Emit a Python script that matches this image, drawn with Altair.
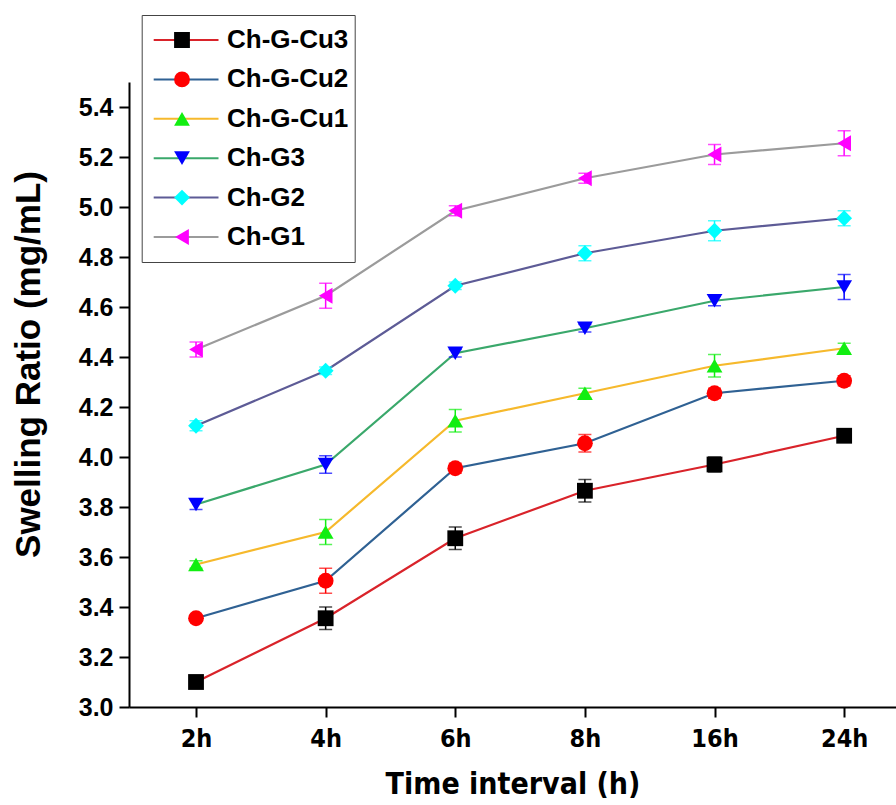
import altair as alt
import pandas as pd

# Sampling times and series
times = ["2h", "4h", "6h", "8h", "16h", "24h"]
series = ["Ch-G-Cu3", "Ch-G-Cu2", "Ch-G-Cu1", "Ch-G3", "Ch-G2", "Ch-G1"]

# Mean swelling ratio (mg/mL) and standard deviation per series
cu3 = [3.10, 3.355, 3.675, 3.865, 3.97, 4.085]
cu3_err = [0.01, 0.045, 0.045, 0.045, 0.03, 0.01]
cu2 = [3.355, 3.505, 3.955, 4.055, 4.255, 4.305]
cu2_err = [0.01, 0.05, 0.02, 0.035, 0.02, 0.02]
cu1 = [3.57, 3.70, 4.145, 4.255, 4.365, 4.435]
cu1_err = [0.015, 0.05, 0.045, 0.02, 0.045, 0.02]
g3 = [3.81, 3.97, 4.415, 4.515, 4.625, 4.68]
g3_err = [0.02, 0.035, 0.015, 0.015, 0.02, 0.05]
g2 = [4.125, 4.345, 4.685, 4.815, 4.905, 4.955]
g2_err = [0.02, 0.015, 0.015, 0.03, 0.04, 0.03]
g1 = [4.43, 4.645, 4.985, 5.115, 5.21, 5.255]
g1_err = [0.03, 0.05, 0.02, 0.02, 0.04, 0.05]

values = [cu3, cu2, cu1, g3, g2, g1]
errors = [cu3_err, cu2_err, cu1_err, g3_err, g2_err, g1_err]

line_colors = ["#d9232a", "#2f6193", "#f6b92c", "#3aa86b", "#5d5b96", "#9b9b9b"]
marker_colors = ["#000000", "#ff0000", "#11ee11", "#0000ff", "#00ffff", "#ff00ff"]
marker_shapes = ["square", "circle", "triangle-up", "triangle-down", "diamond", "triangle-left"]

# the line key carries a zero-width suffix so that the line-style legend
# stays separate from the marker legend
line_keys = [s + "\u200b" for s in series]

rows = []
for name, key, vals, errs in zip(series, line_keys, values, errors):
    for i, (t, v, e) in enumerate(zip(times, vals, errs)):
        rows.append({"line": key, "marker": name, "idx": i, "time": t,
                     "ratio": v, "lo": v - e, "hi": v + e})
df = pd.DataFrame(rows)

FONT = "Liberation Sans"
NARROW = "Liberation Sans Narrow, Arial Narrow, DejaVu Sans Condensed"
LEG_X, LEG_Y = 12.7, -67
LEG_PAD, LEG_CLIP, LEG_ROWPAD = 12, 26, 13.4

label_expr = "[" + ",".join(f"'{t}'" for t in times) + "][datum.value]"

x = alt.X("idx:Q",
          scale=alt.Scale(domain=[-0.517, 5.40], nice=False, zero=False),
          axis=alt.Axis(title="Time interval (h)", values=list(range(len(times))),
                        labelExpr=label_expr, grid=False,
                        labelFont=NARROW, labelFontSize=25, labelFontWeight="bold",
                        labelColor="black", labelPadding=9,
                        titleFont=NARROW, titleFontSize=30, titleFontWeight="bold",
                        titleColor="black", titlePadding=18,
                        tickSize=10, tickWidth=2, tickColor="black",
                        domainWidth=2, domainColor="black"))
y = alt.Y("ratio:Q",
          scale=alt.Scale(domain=[3.0, 5.5], nice=False, zero=False),
          axis=alt.Axis(title="Swelling Ratio (mg/mL)",
                        values=[3.0, 3.2, 3.4, 3.6, 3.8, 4.0, 4.2, 4.4, 4.6, 4.8, 5.0, 5.2, 5.4],
                        format=".1f", grid=False,
                        labelFont=FONT, labelFontSize=25, labelFontWeight="bold",
                        labelColor="black", labelPadding=6,
                        titleFont=FONT, titleFontSize=35, titleFontWeight="bold",
                        titleColor="black", titleX=-83, titleY=282,
                        tickSize=10, tickWidth=2, tickColor="black",
                        domainWidth=2, domainColor="black"))

# line-style legend: draws the frame and the coloured strokes, no text
lines = alt.Chart(df).mark_line(strokeWidth=2.2).encode(
    x=x, y=y,
    stroke=alt.Stroke("line:N",
                      scale=alt.Scale(domain=line_keys, range=line_colors),
                      legend=alt.Legend(orient="none", legendX=LEG_X, legendY=LEG_Y,
                                        title=None, padding=LEG_PAD, strokeColor="#444444",
                                        clipHeight=LEG_CLIP, rowPadding=LEG_ROWPAD,
                                        symbolType="stroke", symbolSize=5329,
                                        symbolStrokeWidth=2, symbolOffset=-9.2,
                                        labelExpr="''", labelOffset=122.5)),
)

# error bars share the marker colours; the domain is listed in reverse so this
# scale never folds into the marker legend
err_color = alt.Color("marker:N",
                      scale=alt.Scale(domain=series[::-1], range=marker_colors[::-1]),
                      legend=None)
bars = alt.Chart(df).mark_rule(strokeWidth=1.5).encode(
    x=x, y=alt.Y("lo:Q"), y2="hi:Q", color=err_color,
)
caps_lo = alt.Chart(df).mark_tick(orient="horizontal", size=13, thickness=1.5).encode(
    x=x, y=alt.Y("lo:Q"), color=err_color,
)
caps_hi = alt.Chart(df).mark_tick(orient="horizontal", size=13, thickness=1.5).encode(
    x=x, y=alt.Y("hi:Q"), color=err_color,
)

# marker legend: sits on top of the line-style legend and carries the labels
marker_legend = alt.Legend(orient="none", legendX=LEG_X, legendY=LEG_Y, title=None,
                           padding=LEG_PAD, clipHeight=LEG_CLIP, rowPadding=LEG_ROWPAD,
                           symbolSize=250, symbolStrokeWidth=0, symbolOffset=15.3,
                           labelFont=FONT, labelFontSize=26, labelFontWeight="bold",
                           labelColor="black", labelOffset=32)
points = alt.Chart(df).mark_point(filled=True, size=250, opacity=1, strokeWidth=0).encode(
    x=x, y=y,
    fill=alt.Fill("marker:N", scale=alt.Scale(domain=series, range=marker_colors),
                  legend=marker_legend),
    shape=alt.Shape("marker:N", scale=alt.Scale(domain=series, range=marker_shapes),
                    legend=marker_legend),
)

chart = alt.layer(lines, bars, caps_lo, caps_hi, points).properties(
    width=767, height=625,
    autosize=alt.AutoSizeParams(type="none"),
    padding={"left": 129, "top": 82, "right": 0, "bottom": 98},
    background="white",
).configure_view(stroke=None)

chart.save("out.html", embed_options={"renderer": "svg", "actions": False})
